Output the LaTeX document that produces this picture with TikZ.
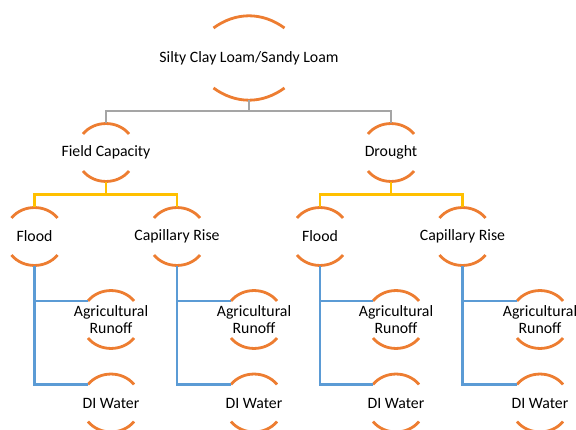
\documentclass[tikz,border=0pt]{standalone}
\usepackage{fontspec}
\setmainfont{Carlito}
\usepackage{tikz}
\usetikzlibrary{positioning,calc}
\definecolor{ArcOrange}{RGB}{237,125,49}
\definecolor{LineGray}{RGB}{165,165,165}
\definecolor{LineGold}{RGB}{255,192,0}
\definecolor{LineBlue}{RGB}{91,155,213}
\tikzset{
  arcline/.style={draw=ArcOrange,line width=2.8pt},
  conn/.style={line width=2.6pt},
  lvl/.style={font=\fontsize{15.8}{17.6}\selectfont,align=center,inner sep=0pt,text=black},
  capbig/.style={lvl,minimum height=83pt,append after command={
    ($(\tikzlastnode.center)+(-35.5,-30)$) edge[arcline,bend left=36] ($(\tikzlastnode.center)+(35.5,-30)$)
    ($(\tikzlastnode.center)+(-35.5,30)$) edge[arcline,bend right=36] ($(\tikzlastnode.center)+(35.5,30)$)}},
  capsmall/.style={lvl,minimum height=59pt,append after command={
    ($(\tikzlastnode.center)+(-23,-18.5)$) edge[arcline,bend left=51] ($(\tikzlastnode.center)+(23,-18.5)$)
    ($(\tikzlastnode.center)+(-23,18.5)$) edge[arcline,bend right=51] ($(\tikzlastnode.center)+(23,18.5)$)}},
}

\begin{document}
\begin{tikzpicture}[x=1pt,y=-1pt]
\useasboundingbox (0,0) rectangle (576,430);
% top and second level
\node[capbig] (top) at (249,58) {Silty Clay Loam/Sandy Loam};
\node[capsmall] (fc) at (106,152.5) {Field Capacity};
\node[capsmall] (dr) at (391,152.5) {Drought};
% third level
\node[capsmall] (fl1) at (34.5,236.5) {Flood};
\node[capsmall] (cr1) at (177,236.5) {Capillary Rise};
\node[capsmall] (fl2) at (320,236.5) {Flood};
\node[capsmall] (cr2) at (462.5,236.5) {Capillary Rise};
% leaves
\node[capsmall] (ag1) at (111,319.5) {Agricultural\\Runoff};
\node[capsmall] (ag2) at (254,319.5) {Agricultural\\Runoff};
\node[capsmall] (ag3) at (396,319.5) {Agricultural\\Runoff};
\node[capsmall] (ag4) at (540,319.5) {Agricultural\\Runoff};
\node[capsmall] (di1) at (111,403) {DI Water};
\node[capsmall] (di2) at (254,403) {DI Water};
\node[capsmall] (di3) at (396,403) {DI Water};
\node[capsmall] (di4) at (540,403) {DI Water};
% connectors
\coordinate (jt) at (249,111);
\coordinate (jf) at (106,194.5);
\coordinate (jd) at (391,194.5);
\draw[conn,LineGray] (top.south) -- (jt) -| (fc.north);
\draw[conn,LineGray] (jt) -| (dr.north);
\draw[conn,LineGold] (fc.south) -- (jf) -| (fl1.north);
\draw[conn,LineGold] (jf) -| (cr1.north);
\draw[conn,LineGold] (dr.south) -- (jd) -| (fl2.north);
\draw[conn,LineGold] (jd) -| (cr2.north);
\draw[conn,LineBlue] (fl1.south) |- ($(ag1.center)+(-23,-18.5)$);
\draw[conn,LineBlue] (fl1.south) |- ($(di1.center)+(-23,-18.5)$);
\draw[conn,LineBlue] (cr1.south) |- ($(ag2.center)+(-23,-18.5)$);
\draw[conn,LineBlue] (cr1.south) |- ($(di2.center)+(-23,-18.5)$);
\draw[conn,LineBlue] (fl2.south) |- ($(ag3.center)+(-23,-18.5)$);
\draw[conn,LineBlue] (fl2.south) |- ($(di3.center)+(-23,-18.5)$);
\draw[conn,LineBlue] (cr2.south) |- ($(ag4.center)+(-23,-18.5)$);
\draw[conn,LineBlue] (cr2.south) |- ($(di4.center)+(-23,-18.5)$);
\end{tikzpicture}
\end{document}
